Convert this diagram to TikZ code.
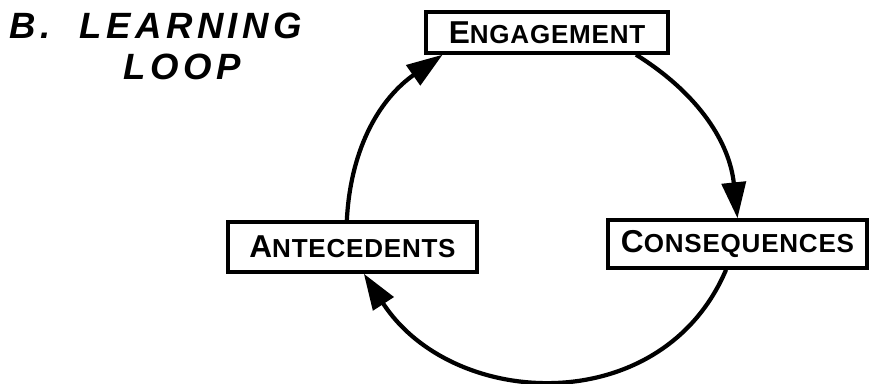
\documentclass[tikz,border=0pt]{standalone}
\usepackage{fontspec}
\setmainfont{Liberation Sans}
\newfontfamily\boxfont{Liberation Sans}[LetterSpace=3]
\newfontfamily\headfont{Liberation Sans}[LetterSpace=12]
\usetikzlibrary{arrows.meta}
\newcommand{\firstbig}[2]{{\fontsize{22.5}{22.5}\selectfont #1}#2}

\begin{document}
\begin{tikzpicture}[x=0.025cm,y=-0.025cm,
  >={Triangle[length=9mm,width=6mm]},
  head/.style={anchor=west, font=\headfont\bfseries\itshape\fontsize{26}{26}\selectfont},
  lbox/.style={draw, line width=2.4pt, inner sep=0pt, font=\boxfont\bfseries\fontsize{18.5}{18.5}\selectfont},
  loopline/.style={->, line width=3pt}]
\useasboundingbox (0,0) rectangle (869,383);
\node[head] (t1) at (5,26) {B.\ \ LEARNING};
\node[head] (t2) at (119,67) {LOOP};
\node[lbox, minimum width=6.05cm, minimum height=1.025cm] (eng) at (547,32.5) {\firstbig{E}{NGAGEMENT}};
\node[lbox, minimum width=6.225cm, minimum height=1.25cm] (ante) at (352.5,247) {\firstbig{A}{NTECEDENTS}};
\node[lbox, minimum width=6.475cm, minimum height=1.2cm] (cons) at (737.5,244) {\firstbig{C}{ONSEQUENCES}};
\draw [loopline] (ante.102) to[out=87, in=215] (eng.192);
\draw [loopline] (eng.-14) to[out=-32, in=96] (cons.north);
\draw [loopline] (cons.-114) to[out=-113, in=-57, looseness=1.15] (ante.-67);
\end{tikzpicture}
\end{document}
